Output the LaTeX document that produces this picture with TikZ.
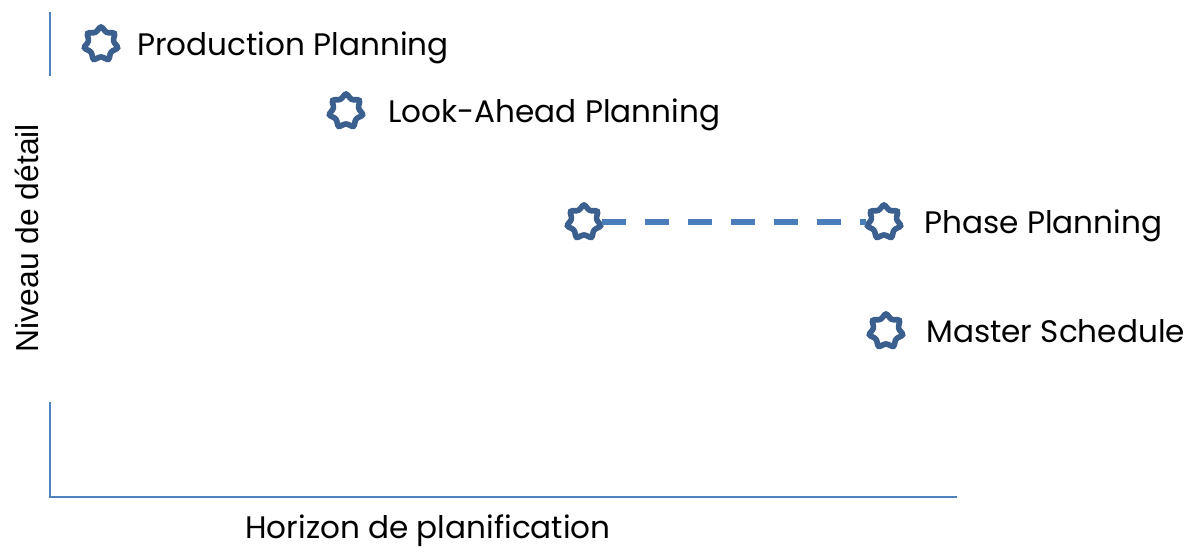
\documentclass[tikz,border=0pt]{standalone}
\usepackage{fontspec}
\setmainfont{Poppins}
\newfontfamily\arialfont{Liberation Sans}
\usetikzlibrary{shapes.geometric, positioning}
\definecolor{axisblue}{HTML}{4F81BD}
\definecolor{stardark}{HTML}{3B5F8F}
\definecolor{dashblue}{HTML}{4A7EBB}
\tikzset{
  marker/.style={star, star points=7, star point ratio=1.45, draw=stardark,
    line width=3.2pt, rounded corners=1.3pt, minimum size=0.72cm, inner sep=0pt},
  planlabel/.style={inner sep=0pt, text height=0.55cm, text depth=0.09cm,
    font=\fontsize{17.7}{21}\selectfont},
  axisline/.style={axisblue, line width=1.2pt}
}
\begin{document}
\begin{tikzpicture}[x=0.02cm, y=-0.02cm]
    \useasboundingbox (0,0) rectangle (1199,551);
    \draw [axisline] (50,12) -- (50,76);
    \draw [axisline] (50,402) -- (50,497) -- (957,497);
    \node [marker] (pp) at (101,44) {};
    \node [marker] (la) at (346,111) {};
    \node [marker] (phA) at (584,222) {};
    \node [marker] (phB) at (884,222) {};
    \node [marker] (ms) at (886,331) {};
    \node [planlabel, right=0.36cm of pp] (ppText) {Production Planning};
    \node [planlabel, right=0.48cm of la] (laText) {Look-Ahead Planning};
    \node [planlabel, right=0.44cm of phB] (phText) {Phase Planning};
    \node [planlabel, right=0.44cm of ms] (msText) {Master Schedule};
    \draw [dashblue, line width=3.3pt, dash pattern=on 0.48cm off 0.38cm] (phA) -- (phB);
    \node [font=\arialfont\fontsize{18.1}{22}\selectfont, rotate=90] (yLabel) at (27,238) {Niveau de détail};
    \node [inner sep=0pt, anchor=base, font=\fontsize{17.7}{21}\selectfont] (xLabel) at (428,538) {Horizon de planification};
\end{tikzpicture}
\end{document}
